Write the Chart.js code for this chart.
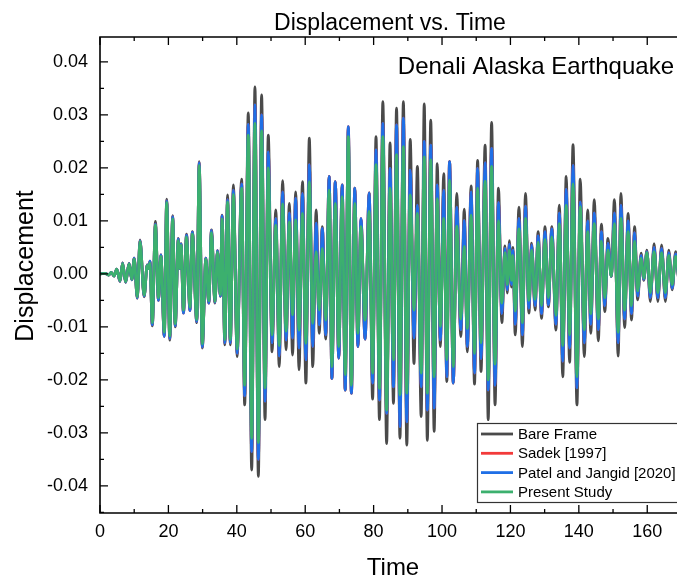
<!DOCTYPE html>
<html>
<head>
<meta charset="utf-8">
<script src="https://cdn.jsdelivr.net/npm/chart.js@4.4.1/dist/chart.umd.min.js"></script>
<style>
  html, body { margin: 0; padding: 0; background: #fff; }
  #wrap { width: 677px; height: 577px; }
</style>
</head>
<body>
<div id="wrap"><canvas id="dispChart" width="677" height="577"></canvas></div>
<script>
// ── DATA: displacement extrema (peaks / troughs) over time
const time = [
  0, 1.5, 2.5, 3.3, 4.1, 4.9, 5.85, 6.6, 7.5, 8.5,
  9.3, 10.0, 10.9, 11.7, 12.9, 13.8, 14.2, 14.6, 15.3, 16.2,
  17.1, 17.8, 18.8, 19.5, 20.4, 21.25, 22.0, 22.9, 23.3, 23.7,
  24.4, 25.3, 26.3, 27.0, 28.3, 29.0, 29.9, 30.95, 31.8, 32.6,
  33.6, 34.35, 35.2, 35.7, 36.5, 37.3, 38.1, 39.0, 40.1, 41.4,
  42.3, 43.35, 44.35, 45.3, 46.3, 47.25, 48.25, 49.2, 50.3, 51.4,
  52.4, 53.4, 54.4, 55.35, 56.3, 57.2, 58.2, 59.2, 60.2, 61.2,
  62.2, 63.2, 64.1, 65.0, 66.0, 67.0, 67.8, 68.8, 69.8, 70.8,
  71.7, 72.6, 73.5, 74.5, 75.4, 76.3, 77.5, 78.7, 79.7, 80.7,
  81.7, 82.7, 83.8, 84.8, 85.8, 86.7, 87.7, 88.7, 89.7, 90.7,
  91.8, 92.8, 93.9, 94.8, 95.7, 96.7, 97.7, 98.6, 99.5, 100.5,
  101.4, 102.2, 103.3, 104.3, 105.5, 106.5, 107.4, 108.5, 109.5, 110.4,
  111.4, 112.6, 113.5, 114.5, 115.5, 116.5, 117.5, 118.4, 119.1, 119.7,
  120.3, 120.7, 121.4, 122.5, 123.5, 124.4, 125.4, 126.2, 127.2, 128.1,
  129.1, 130.1, 131.1, 132.1, 133.3, 134.3, 135.3, 136.3, 137.3, 138.3,
  139.45, 140.4, 141.6, 142.6, 143.5, 144.5, 145.7, 146.6, 147.6, 148.5,
  149.5, 150.4, 151.5, 152.3, 153.4, 154.4, 155.4, 156.3, 157.2, 158.2,
  159.0, 159.9, 160.9, 162.0, 163.1, 164.2, 165.3, 166.3, 167.3, 168.3,
  169.3
];

const bareFrame = [
  0, 0.0001, -0.0002, 0.0003, -0.0004, 0.0009, -0.0014, 0.0021, -0.0016, 0.0020,
  -0.0011, 0.0030, -0.0046, 0.0064, -0.0043, 0.0017, 0.0010, 0.0023, -0.0098, 0.0099,
  -0.0049, 0.0036, -0.0117, 0.0141, -0.0125, 0.0110, -0.0100, 0.0067, 0.0010, 0.0057,
  -0.0073, 0.0075, -0.0068, 0.0080, -0.0092, 0.0212, -0.0140, 0.0030, -0.0055, 0.0083,
  -0.0055, 0.0044, -0.0042, 0.0111, -0.0134, 0.0149, -0.0134, 0.0168, -0.0156, 0.0179,
  -0.0247, 0.0304, -0.0370, 0.0353, -0.0382, 0.0338, -0.0275, 0.0262, -0.0147, 0.0121,
  -0.0175, 0.0176, -0.0143, 0.0133, -0.0153, 0.0155, -0.0181, 0.0174, -0.0206, 0.0256,
  -0.0175, 0.0121, -0.0112, 0.0089, -0.0123, 0.0184, -0.0197, 0.0174, -0.0159, 0.0168,
  -0.0219, 0.0274, -0.0225, 0.0162, -0.0137, 0.0102, -0.0123, 0.0153, -0.0236, 0.0259,
  -0.0275, 0.0325, -0.0320, 0.0247, -0.0244, 0.0313, -0.0310, 0.0325, -0.0323, 0.0254,
  -0.0169, 0.0203, -0.0269, 0.0321, -0.0314, 0.0290, -0.0297, 0.0208, -0.0137, 0.0189,
  -0.0203, 0.0212, -0.0206, 0.0152, -0.0118, 0.0122, -0.0147, 0.0166, -0.0208, 0.0214,
  -0.0184, 0.0243, -0.0275, 0.0286, -0.0247, 0.0162, -0.0092, 0.0053, -0.0036, 0.0063,
  -0.0025, 0.0050, -0.0115, 0.0126, -0.0137, 0.0152, -0.0074, 0.0058, -0.0068, 0.0080,
  -0.0084, 0.0089, -0.0062, 0.0089, -0.0106, 0.0130, -0.0194, 0.0184, -0.0167, 0.0244,
  -0.0247, 0.0179, -0.0156, 0.0121, -0.0112, 0.0140, -0.0126, 0.0094, -0.0071, 0.0067,
  -0.0005, 0.0140, -0.0155, 0.0152, -0.0101, 0.0114, -0.0087, 0.0089, -0.0049, 0.0039,
  -0.0012, 0.0045, -0.0052, 0.0057, -0.0052, 0.0055, -0.0052, 0.0045, -0.0030, 0.0042,
  -0.0020
];

const sadek = [
  0, 0.0001, -0.0002, 0.0003, -0.0004, 0.0009, -0.0014, 0.0021, -0.0016, 0.0020,
  -0.0011, 0.0030, -0.0045, 0.0063, -0.0042, 0.0017, 0.0010, 0.0024, -0.0096, 0.0094,
  -0.0050, 0.0036, -0.0118, 0.0138, -0.0122, 0.0108, -0.0098, 0.0066, 0.0010, 0.0056,
  -0.0074, 0.0073, -0.0069, 0.0079, -0.0090, 0.0210, -0.0138, 0.0030, -0.0055, 0.0082,
  -0.0054, 0.0044, -0.0042, 0.0110, -0.0130, 0.0140, -0.0130, 0.0158, -0.0150, 0.0170,
  -0.0230, 0.0282, -0.0335, 0.0319, -0.0350, 0.0300, -0.0240, 0.0230, -0.0130, 0.0105,
  -0.0155, 0.0155, -0.0125, 0.0115, -0.0121, 0.0143, -0.0140, 0.0152, -0.0162, 0.0206,
  -0.0137, 0.0096, -0.0096, 0.0086, -0.0115, 0.0184, -0.0197, 0.0174, -0.0159, 0.0168,
  -0.0219, 0.0278, -0.0225, 0.0162, -0.0137, 0.0105, -0.0123, 0.0153, -0.0206, 0.0234,
  -0.0238, 0.0284, -0.0263, 0.0199, -0.0213, 0.0281, -0.0288, 0.0294, -0.0279, 0.0196,
  -0.0121, 0.0130, -0.0213, 0.0250, -0.0257, 0.0243, -0.0253, 0.0168, -0.0125, 0.0158,
  -0.0194, 0.0212, -0.0206, 0.0126, -0.0105, 0.0101, -0.0137, 0.0155, -0.0187, 0.0199,
  -0.0160, 0.0210, -0.0219, 0.0237, -0.0210, 0.0135, -0.0075, 0.0048, -0.0030, 0.0056,
  -0.0020, 0.0045, -0.0095, 0.0105, -0.0115, 0.0128, -0.0065, 0.0055, -0.0060, 0.0072,
  -0.0075, 0.0080, -0.0058, 0.0085, -0.0095, 0.0115, -0.0165, 0.0160, -0.0140, 0.0205,
  -0.0215, 0.0136, -0.0130, 0.0100, -0.0095, 0.0115, -0.0105, 0.0080, -0.0060, 0.0058,
  -0.0005, 0.0115, -0.0130, 0.0130, -0.0085, 0.0100, -0.0075, 0.0078, -0.0042, 0.0035,
  -0.0010, 0.0042, -0.0045, 0.0050, -0.0045, 0.0048, -0.0045, 0.0040, -0.0027, 0.0038,
  -0.0018
];

const patelJangid = [
  0, 0.0001, -0.0002, 0.0003, -0.0004, 0.0009, -0.0014, 0.0021, -0.0016, 0.0020,
  -0.0011, 0.0030, -0.0045, 0.0063, -0.0042, 0.0017, 0.0010, 0.0024, -0.0096, 0.0094,
  -0.0050, 0.0036, -0.0118, 0.0138, -0.0122, 0.0108, -0.0098, 0.0066, 0.0010, 0.0056,
  -0.0074, 0.0073, -0.0069, 0.0079, -0.0090, 0.0210, -0.0138, 0.0030, -0.0055, 0.0082,
  -0.0054, 0.0044, -0.0042, 0.0110, -0.0130, 0.0140, -0.0130, 0.0158, -0.0150, 0.0170,
  -0.0230, 0.0282, -0.0335, 0.0319, -0.0350, 0.0300, -0.0240, 0.0230, -0.0130, 0.0105,
  -0.0155, 0.0155, -0.0125, 0.0115, -0.0121, 0.0143, -0.0140, 0.0152, -0.0162, 0.0206,
  -0.0137, 0.0096, -0.0096, 0.0086, -0.0115, 0.0184, -0.0197, 0.0174, -0.0159, 0.0168,
  -0.0219, 0.0278, -0.0225, 0.0162, -0.0137, 0.0105, -0.0123, 0.0153, -0.0206, 0.0234,
  -0.0238, 0.0284, -0.0263, 0.0199, -0.0213, 0.0281, -0.0288, 0.0294, -0.0279, 0.0196,
  -0.0121, 0.0130, -0.0213, 0.0250, -0.0257, 0.0243, -0.0253, 0.0168, -0.0125, 0.0158,
  -0.0194, 0.0212, -0.0206, 0.0126, -0.0105, 0.0101, -0.0137, 0.0155, -0.0187, 0.0199,
  -0.0160, 0.0210, -0.0219, 0.0237, -0.0210, 0.0135, -0.0075, 0.0048, -0.0030, 0.0056,
  -0.0020, 0.0045, -0.0095, 0.0105, -0.0115, 0.0128, -0.0065, 0.0055, -0.0060, 0.0072,
  -0.0075, 0.0080, -0.0058, 0.0085, -0.0095, 0.0115, -0.0165, 0.0160, -0.0140, 0.0205,
  -0.0215, 0.0136, -0.0130, 0.0100, -0.0095, 0.0115, -0.0105, 0.0080, -0.0060, 0.0058,
  -0.0005, 0.0115, -0.0130, 0.0130, -0.0085, 0.0100, -0.0075, 0.0078, -0.0042, 0.0035,
  -0.0010, 0.0042, -0.0045, 0.0050, -0.0045, 0.0048, -0.0045, 0.0040, -0.0027, 0.0038,
  -0.0018
];

const presentStudy = [
  0, 0.0001, -0.0002, 0.0003, -0.0004, 0.0009, -0.0013, 0.0020, -0.0015, 0.0019,
  -0.0010, 0.0028, -0.0043, 0.0061, -0.0040, 0.0016, 0.0010, 0.0021, -0.0092, 0.0092,
  -0.0045, 0.0033, -0.0110, 0.0135, -0.0117, 0.0104, -0.0094, 0.0063, 0.0010, 0.0054,
  -0.0068, 0.0070, -0.0063, 0.0075, -0.0086, 0.0205, -0.0132, 0.0028, -0.0051, 0.0078,
  -0.0052, 0.0041, -0.0039, 0.0104, -0.0124, 0.0136, -0.0124, 0.0150, -0.0142, 0.0162,
  -0.0210, 0.0262, -0.0310, 0.0284, -0.0318, 0.0270, -0.0215, 0.0200, -0.0115, 0.0092,
  -0.0135, 0.0132, -0.0108, 0.0098, -0.0077, 0.0102, -0.0106, 0.0114, -0.0131, 0.0174,
  -0.0093, 0.0042, -0.0068, 0.0048, -0.0087, 0.0158, -0.0175, 0.0133, -0.0137, 0.0146,
  -0.0190, 0.0259, -0.0210, 0.0133, -0.0112, 0.0089, -0.0087, 0.0118, -0.0187, 0.0206,
  -0.0216, 0.0259, -0.0257, 0.0162, -0.0162, 0.0225, -0.0228, 0.0240, -0.0225, 0.0149,
  -0.0068, 0.0114, -0.0187, 0.0221, -0.0225, 0.0215, -0.0194, 0.0142, -0.0099, 0.0105,
  -0.0162, 0.0177, -0.0175, 0.0090, -0.0085, 0.0052, -0.0103, 0.0111, -0.0150, 0.0162,
  -0.0130, 0.0175, -0.0200, 0.0203, -0.0170, 0.0100, -0.0055, 0.0040, -0.0020, 0.0045,
  -0.0012, 0.0035, -0.0070, 0.0085, -0.0092, 0.0105, -0.0050, 0.0045, -0.0048, 0.0060,
  -0.0060, 0.0065, -0.0045, 0.0070, -0.0078, 0.0095, -0.0135, 0.0130, -0.0115, 0.0170,
  -0.0194, 0.0127, -0.0105, 0.0080, -0.0075, 0.0095, -0.0085, 0.0062, -0.0045, 0.0045,
  -0.0004, 0.0095, -0.0110, 0.0105, -0.0068, 0.0080, -0.0060, 0.0062, -0.0032, 0.0030,
  -0.0008, 0.0040, -0.0035, 0.0042, -0.0035, 0.0040, -0.0035, 0.0035, -0.0020, 0.0033,
  -0.0014
];

const xTicks = [0, 20, 40, 60, 80, 100, 120, 140, 160];
const yTicks = [-0.04, -0.03, -0.02, -0.01, 0, 0.01, 0.02, 0.03, 0.04];

const FONT = "'Liberation Sans', Arial, sans-serif";
const COLORS = {
  bare:    '#4a4a4a',
  sadek:   '#f23a3a',
  patel:   '#1f6fe6',
  present: '#3cb06e',
};

const toPoints = series => time.map((t, i) => ({ x: t, y: series[i] }));

function line(label, series, color, order) {
  return {
    label,
    data: toPoints(series),
    borderColor: color,
    backgroundColor: color,
    borderWidth: 2.8,
    pointRadius: 0,
    cubicInterpolationMode: 'monotone',
    order,
  };
}

// ── frame, inward ticks, titles and boxed legend
const framePlugin = {
  id: 'frame',
  afterDraw(chart) {
    const { ctx, chartArea: a, scales: { x, y } } = chart;
    ctx.save();

    ctx.strokeStyle = '#000';
    ctx.lineWidth = 1.6;
    ctx.beginPath();
    ctx.moveTo(a.right + 2, a.top);
    ctx.lineTo(a.left, a.top);
    ctx.lineTo(a.left, a.bottom);
    ctx.lineTo(a.right + 2, a.bottom);
    ctx.stroke();

    ctx.lineWidth = 1.3;
    ctx.beginPath();
    for (let v = 0; v <= x.max; v += 10) {
      const px = x.getPixelForValue(v);
      const len = v % 20 === 0 ? 8 : 4;
      ctx.moveTo(px, a.bottom); ctx.lineTo(px, a.bottom - len);
      ctx.moveTo(px, a.top);    ctx.lineTo(px, a.top + len);
    }
    for (let k = -9; k <= 9; k++) {
      const v = k * 0.005;
      if (v < y.min || v > y.max) continue;
      const py = y.getPixelForValue(v);
      const len = k % 2 === 0 ? 8 : 4;
      ctx.moveTo(a.left, py); ctx.lineTo(a.left + len, py);
    }
    ctx.stroke();

    ctx.fillStyle = '#000';
    ctx.textBaseline = 'alphabetic';
    ctx.textAlign = 'center';
    ctx.font = `23px ${FONT}`;
    ctx.fillText('Displacement vs. Time', 390, 30);

    ctx.font = `24px ${FONT}`;
    ctx.fillText('Time', 393, 575);

    ctx.textAlign = 'right';
    ctx.fillText('Denali Alaska Earthquake', 674, 74);

    ctx.save();
    ctx.translate(33, 266);
    ctx.rotate(-Math.PI / 2);
    ctx.textAlign = 'center';
    ctx.font = `25px ${FONT}`;
    ctx.fillText('Displacement', 0, 0);
    ctx.restore();

    // legend box
    const bx = 477, by = 423, bw = 205, bh = 79;
    ctx.fillStyle = '#fff';
    ctx.fillRect(bx, by, bw, bh);
    ctx.strokeStyle = '#333';
    ctx.lineWidth = 1.2;
    ctx.strokeRect(bx + 0.5, by + 0.5, bw, bh);

    ctx.font = `15px ${FONT}`;
    ctx.textAlign = 'left';
    ctx.textBaseline = 'middle';
    chart.data.datasets.forEach((ds, i) => {
      const ry = 434 + i * 19.3;
      ctx.strokeStyle = ds.borderColor;
      ctx.lineWidth = 2.8;
      ctx.beginPath();
      ctx.moveTo(481, ry);
      ctx.lineTo(513, ry);
      ctx.stroke();
      ctx.fillStyle = '#000';
      ctx.fillText(ds.label, 518, ry + 1);
    });

    ctx.restore();
  },
};

new Chart(document.getElementById('dispChart'), {
  type: 'line',
  data: {
    datasets: [
      line('Bare Frame', bareFrame, COLORS.bare, 4),
      line('Sadek [1997]', sadek, COLORS.sadek, 3),
      line('Patel and Jangid [2020]', patelJangid, COLORS.patel, 2),
      line('Present Study', presentStudy, COLORS.present, 1),
    ],
  },
  options: {
    responsive: false,
    animation: false,
    layout: { padding: { top: 37, right: 0, left: 0, bottom: 0 } },
    plugins: {
      legend: { display: false },
      title: { display: false },
      tooltip: { enabled: false },
    },
    scales: {
      x: {
        type: 'linear',
        min: 0,
        max: 168.7,
        grid: { display: false, drawTicks: false },
        border: { display: false },
        afterFit: s => { s.height = 64; },
        afterBuildTicks: s => { s.ticks = xTicks.map(v => ({ value: v })); },
        ticks: {
          padding: 8,
          maxRotation: 0,
          color: '#000',
          font: { family: FONT, size: 18 },
        },
      },
      y: {
        type: 'linear',
        min: -0.0451,
        max: 0.0447,
        grid: { display: false, drawTicks: false },
        border: { display: false },
        afterFit: s => { s.width = 100; },
        afterBuildTicks: s => { s.ticks = yTicks.map(v => ({ value: v })); },
        ticks: {
          padding: 12,
          color: '#000',
          font: { family: FONT, size: 18 },
          callback: v => v.toFixed(2),
        },
      },
    },
  },
  plugins: [framePlugin],
});
</script>
</body>
</html>
